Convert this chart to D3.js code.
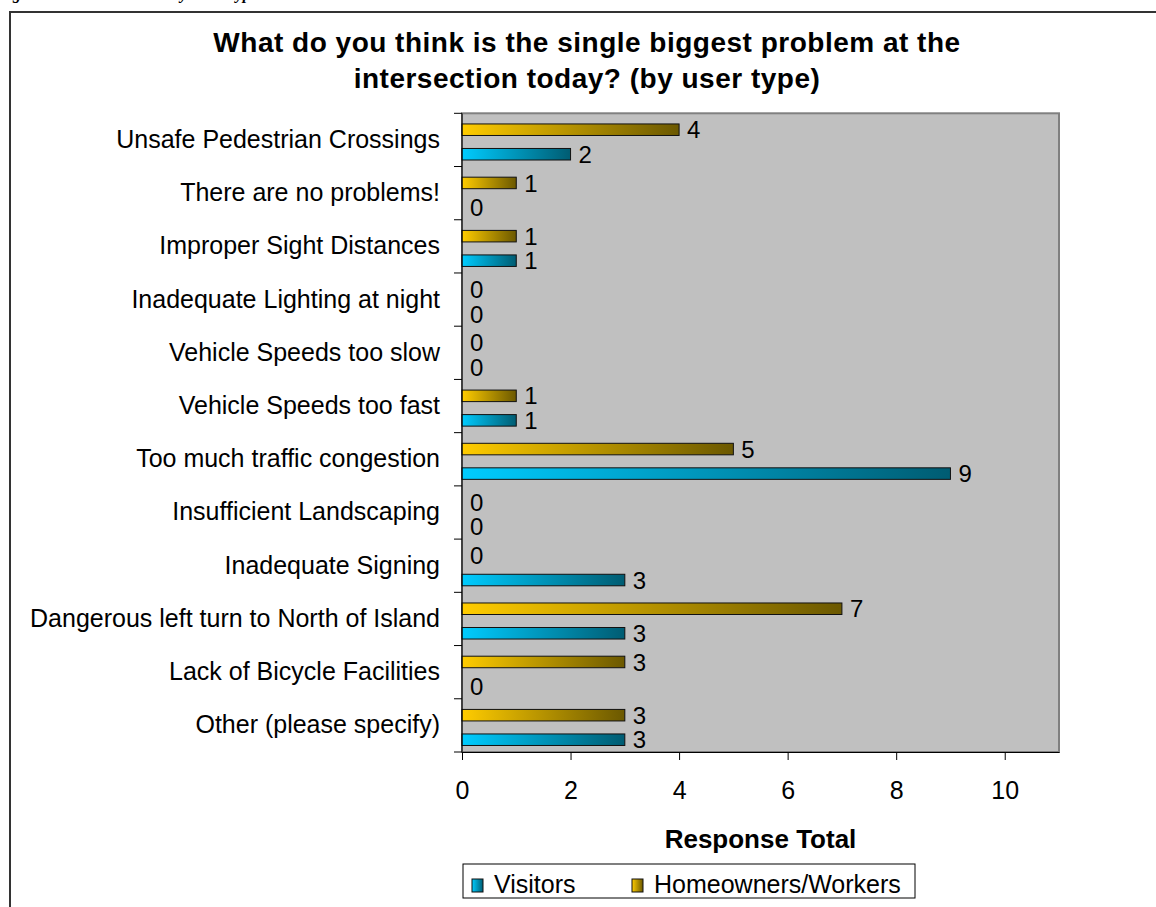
<!DOCTYPE html>
<html>
<head>
<meta charset="utf-8">
<script src="https://cdn.jsdelivr.net/npm/d3@7"></script>
<style>
  body { margin: 0; background: #fff; }
  svg { display: block; font-family: "Liberation Sans", Arial, sans-serif; }
</style>
</head>
<body>
<svg id="chart" width="1156" height="907"></svg>
<script>
// categories top to bottom
const categories = [
  "Unsafe Pedestrian Crossings",
  "There are no problems!",
  "Improper Sight Distances",
  "Inadequate Lighting at night",
  "Vehicle Speeds too slow",
  "Vehicle Speeds too fast",
  "Too much traffic congestion",
  "Insufficient Landscaping",
  "Inadequate Signing",
  "Dangerous left turn to North of Island",
  "Lack of Bicycle Facilities",
  "Other (please specify)"
];
const homeowners = [4, 1, 1, 0, 0, 1, 5, 0, 0, 7, 3, 3];
const visitors   = [2, 0, 1, 0, 0, 1, 9, 0, 3, 3, 0, 3];
const seriesKeys = ["Homeowners/Workers", "Visitors"];
const legendOrder = ["Visitors", "Homeowners/Workers"];
const xTicks = [0, 2, 4, 6, 8, 10];

const titleLines = [
  "What do you think is the single biggest problem at the",
  "intersection today? (by user type)"
];

const svg = d3.select("#chart");
const plot = {left: 462, right: 1059, top: 113.3, bottom: 752};

// gradients for the bars
const defs = svg.append("defs");
const grads = {
  "Homeowners/Workers": ["#FFCC00", "#6B5800"],
  "Visitors": ["#00CCFF", "#005C72"]
};
const gradId = k => "g_" + k.replace(/\W/g, "");
Object.entries(grads).forEach(([k, c]) => {
  const g = defs.append("linearGradient").attr("id", gradId(k))
    .attr("x1", 0).attr("x2", 1).attr("y1", 0).attr("y2", 0);
  g.append("stop").attr("offset", "0%").attr("stop-color", c[0]);
  g.append("stop").attr("offset", "100%").attr("stop-color", c[1]);
});

// caption above the chart box (cut off by the page edge, as in the source)
svg.append("text")
  .attr("x", -2).attr("y", -1)
  .style("font-family", "'Liberation Serif', 'Times New Roman', serif")
  .style("font-weight", "bold").style("font-style", "italic")
  .style("font-size", "16px")
  .text("Figure 15: Main Problem by User Type");

// outer frame
svg.append("rect")
  .attr("x", 10).attr("y", 12).attr("width", 1300).attr("height", 1000)
  .attr("fill", "none").attr("stroke", "#333").attr("stroke-width", 2);

// title
svg.append("g").selectAll("text").data(titleLines).join("text")
  .attr("x", 587).attr("y", (d, i) => 52 + i * 36)
  .attr("text-anchor", "middle")
  .style("font-weight", "bold").style("font-size", "28px")
  .style("letter-spacing", "0.5px")
  .text(d => d);

const x = d3.scaleLinear().domain([0, 11]).range([plot.left, plot.right]);
const y = d3.scaleBand().domain(categories).range([plot.top, plot.bottom]);
const inner = d3.scaleBand().domain(seriesKeys).range([0, y.bandwidth()])
  .paddingInner(0.53).paddingOuter(0.35).align(0.62);

// plot area
svg.append("rect")
  .attr("x", plot.left).attr("y", plot.top)
  .attr("width", plot.right - plot.left).attr("height", plot.bottom - plot.top)
  .attr("fill", "#C0C0C0").attr("stroke", "#808080").attr("stroke-width", 2);

const rows = categories.map((c, i) => ({
  cat: c,
  values: [
    {key: "Homeowners/Workers", v: homeowners[i]},
    {key: "Visitors", v: visitors[i]}
  ]
}));

const groups = svg.append("g").selectAll("g").data(rows).join("g")
  .attr("transform", d => `translate(0,${y(d.cat)})`);

groups.selectAll("rect").data(d => d.values.filter(e => e.v > 0)).join("rect")
  .attr("x", x(0))
  .attr("y", d => inner(d.key))
  .attr("width", d => x(d.v) - x(0))
  .attr("height", inner.bandwidth())
  .attr("fill", d => `url(#${gradId(d.key)})`)
  .attr("stroke", "#111").attr("stroke-width", 1);

groups.selectAll("text").data(d => d.values).join("text")
  .attr("x", d => x(d.v) + 8)
  .attr("y", d => inner(d.key) + inner.bandwidth() / 2)
  .attr("dy", "0.36em")
  .style("font-size", "24px")
  .text(d => d.v);

// left axis: labels and boundary ticks
const yAxis = svg.append("g")
  .attr("transform", `translate(${plot.left},0)`)
  .call(d3.axisLeft(y).tickSize(0).tickPadding(22));
yAxis.select(".domain").remove();
yAxis.selectAll("text").style("font-size", "25px").attr("fill", "#000");

const bounds = categories.map(c => y(c)).concat([plot.bottom]);
svg.append("g").selectAll("line").data(bounds).join("line")
  .attr("x1", plot.left - 8).attr("x2", plot.left)
  .attr("y1", d => d).attr("y2", d => d)
  .attr("stroke", "#000");
svg.append("line")
  .attr("x1", plot.left).attr("x2", plot.left)
  .attr("y1", plot.top).attr("y2", plot.bottom)
  .attr("stroke", "#000");

// bottom axis
const xAxis = svg.append("g")
  .attr("transform", `translate(0,${plot.bottom})`)
  .call(d3.axisBottom(x).tickValues(xTicks).tickSize(8).tickPadding(21).tickSizeOuter(0));
xAxis.selectAll("text").style("font-size", "25px").attr("fill", "#000");

svg.append("text")
  .attr("x", (plot.left + plot.right) / 2).attr("y", 848)
  .attr("text-anchor", "middle")
  .style("font-weight", "bold").style("font-size", "26px")
  .text("Response Total");

// legend
const legend = svg.append("g");
legend.append("rect")
  .attr("x", 463).attr("y", 864).attr("width", 452).attr("height", 34)
  .attr("fill", "#fff").attr("stroke", "#000").attr("stroke-width", 1);
const legX = d3.scaleOrdinal().domain(legendOrder).range([472, 632]);
const items = legend.selectAll("g.item").data(legendOrder).join("g")
  .attr("class", "item")
  .attr("transform", d => `translate(${legX(d)},879)`);
items.append("rect")
  .attr("width", 11).attr("height", 13)
  .attr("fill", d => `url(#${gradId(d)})`)
  .attr("stroke", "#111");
items.append("text")
  .attr("x", 22).attr("y", 14)
  .style("font-size", "25px")
  .text(d => d);
</script>
</body>
</html>
